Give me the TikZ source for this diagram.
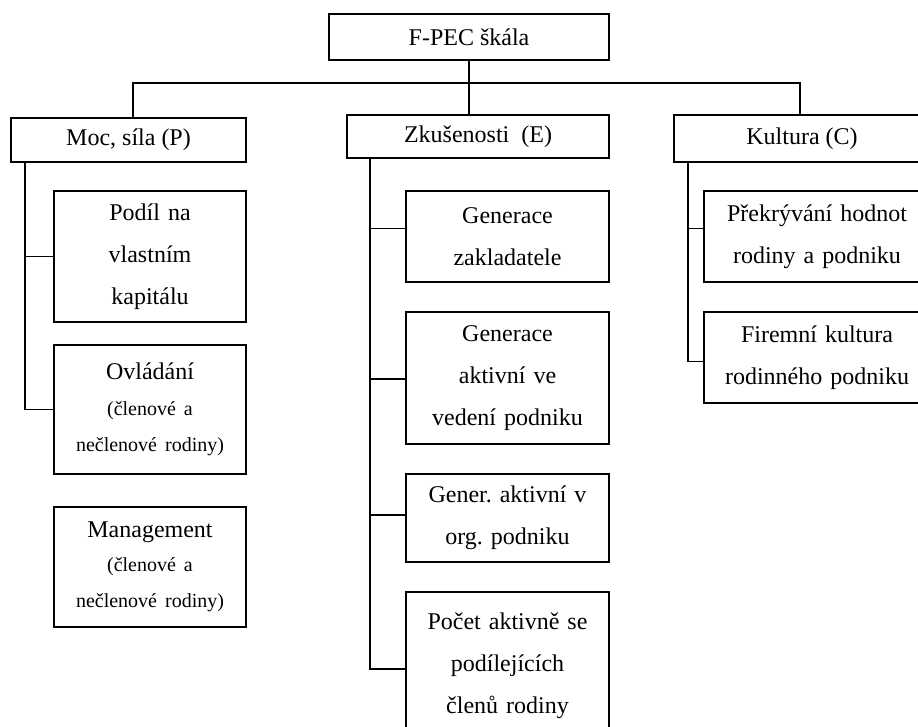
\documentclass[tikz,border=0pt]{standalone}
\usepackage{fontspec}
\setmainfont{Liberation Serif}
\usetikzlibrary{calc}
\usetikzlibrary{positioning}
\newcommand{\bigtxt}{\fontsize{24}{42}\selectfont}
\newcommand{\smalltxt}{\fontsize{20}{34}\selectfont}
\tikzstyle{box}=[draw, line width=1.3pt, align=center, inner sep=0pt, font=\bigtxt]
\tikzstyle{link}=[line width=1.3pt]
\frenchspacing

\begin{document}
\begin{tikzpicture}[x=1pt, y=-1pt]
    \clip (0,0) rectangle (918,726);

    \node[box, minimum width=280, minimum height=46] (fpec) at (469,37) {F-PEC škála};

    \node[box, minimum width=235, minimum height=44] (moc) at (128.5,140) {Moc, síla (P)};
    \node[box, minimum width=262, minimum height=43] (zkus) at (478,136.5) {Zkušenosti~ (E)};
    \node[box, minimum width=256, minimum height=47] (kult) at (802,138.5) {Kultura (C)};

    \node[box, minimum width=192, minimum height=131, text width=182] (podil) at (150,256.5) {Podíl na\\vlastním\\kapitálu};
    \node[box, minimum width=192, minimum height=129, text width=182] (ovl) at (150,409.5) {Ovládání\\[2pt]\smalltxt(členové a\\[-6pt]nečlenové rodiny)};
    \node[box, minimum width=192, minimum height=120, text width=182] (mgmt) at (150,567) {Management\\[0pt]\smalltxt(členové a\\[-6pt]nečlenové rodiny)};

    \node[box, minimum width=203, minimum height=91, text width=193] (genz) at (507.5,236.5) {Generace\\zakladatele};
    \node[box, minimum width=203, minimum height=132, text width=193] (gena) at (507.5,378) {Generace\\aktivní ve\\vedení podniku};
    \node[box, minimum width=203, minimum height=88, text width=193] (gener) at (507.5,518) {Gener. aktivní v\\org. podniku};
    \node[box, minimum width=203, minimum height=148, text width=193] (pocet) at (507.5,666) {Počet aktivně se\\podílejících\\členů rodiny};

    \node[box, minimum width=226, minimum height=91, text width=216] (prek) at (817,236.5) {Překrývání hodnot\\rodiny a podniku};
    \node[box, minimum width=226, minimum height=91, text width=216] (firem) at (817,357.5) {Firemní kultura\\rodinného podniku};

    % top level
    \coordinate (busL) at (133,83);
    \coordinate (busR) at (800,83);
    \draw[link] (fpec.south) -- (fpec.south |- zkus.north);
    \draw[link] (busL |- moc.north) -- (busL) -- (busR) -- (busR |- kult.north);

    % spines
    \coordinate (spP) at (25,0);
    \coordinate (spE) at (370,0);
    \coordinate (spC) at (688,0);
    \draw[link] (spP |- moc.south) |- (ovl.west);
    \draw[link] (spP |- podil.west) -- (podil.west);
    \draw[link] (spE |- zkus.south) |- ([yshift=-3pt]pocet.west);
    \draw[link] ([yshift=8pt]genz.west) -- ++(-36,0);
    \draw[link] ([yshift=-1pt]gena.west) -- ++(-36,0);
    \draw[link] ([yshift=3pt]gener.west) -- ++(-36,0);
    \draw[link] (spC |- kult.south) |- ([yshift=-4pt]firem.west);
    \draw[link] ([yshift=8pt]prek.west) -- ++(-16,0);

\end{tikzpicture}
\end{document}
